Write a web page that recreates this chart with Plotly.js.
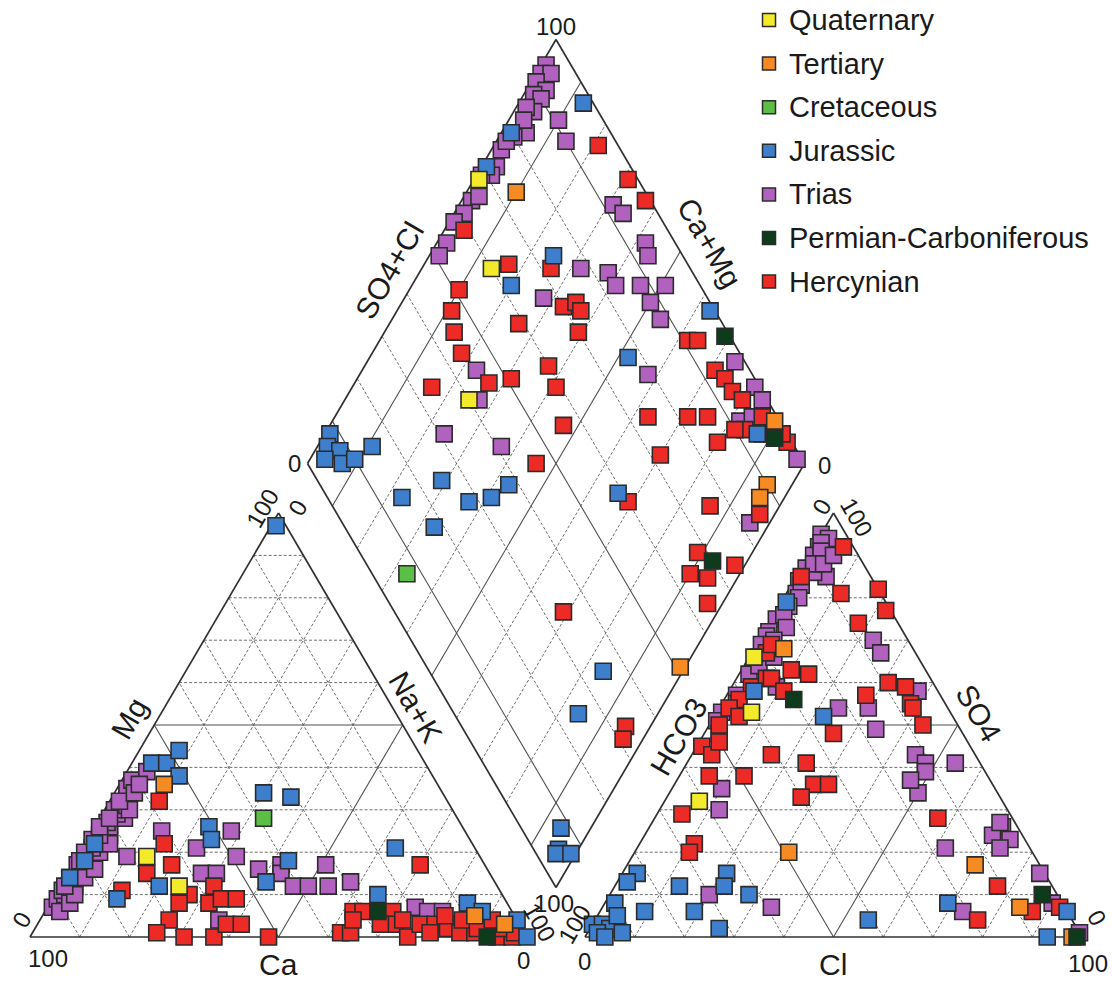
<!DOCTYPE html>
<html><head><meta charset="utf-8">
<script src="https://cdn.plot.ly/plotly-3.0.1.min.js"></script>
<style>html,body{margin:0;padding:0;background:#fff}#chart{width:1112px;height:982px}</style>
</head><body><div id="chart"></div>
<script>
// ---------- DATA (percent of meq) ----------
const groupNames = ['Quaternary','Tertiary','Cretaceous','Jurassic','Trias','Permian-Carboniferous','Hercynian'];
const groupColors = ['#f2ea2a','#f58b22','#5cbf45','#3d7fcc','#b162be','#0e3b1c','#ec2a26'];

// Cation triangle: Ca %, Mg %  (Na+K = remainder)
const quatCatCa = [67,64];
const quatCatMg = [19,12];
const tertCatCa = [55,3,8];
const tertCatMg = [36,3,5];
const cretCatCa = [39];
const cretCatMg = [28];
const jurCatCa = [2,55,52,48,51,36,31,51,52,68,78,39,46,16,25,8,6,0,0,76,80,85];
const jurCatMg = [97,41,41,44,38,34,33,26,23,12,9,18,13,21,10,8,6,4,0,22,18,14];
const triCatCa = [92,90,90,88,88,85,85,85,82,82,82,79,79,76,77,75,76,72,73,71,71,67,68,68,65,64,63,61,57,
                  61,47,71,56,49,58,55,46,41,42,41,38,32,34,29,60,19,17,14,12,
                  91,88,86,87,82,79,81,79,73,74,73,70,65,66,62,60];
const triCatMg = [7,8,9,10,11,12,13,14,15,16,17,18,19,20,21,22,23,24,25,26,27,28,29,30,31,33,35,37,39,
                  25,25,19,21,19,15,15,16,17,15,12,12,17,12,13,4,7,6,6,3,
                  6,8,10,12,14,16,18,20,22,24,26,28,30,32,34,36];
const permCatCa = [27,8];
const permCatMg = [6,0];
const herCatCa = [58,62,63,69,76,63,66,70,74,69,57,60,57,54,63,59,56,52,13,32,30,37,35,24,25,23,24,20,17,15,13,10,6,3,14,11,7,4,
                  28,19,9,5,2,33];
const herCatMg = [32,22,17,15,11,10,8,4,1,0,12,8,9,9,0,3,3,0,17,6,6,1,1,6,3,4,0,3,3,2,1,1,0,0,5,4,3,2,
                  3,1,2,4,1,4];

// Anion triangle: Cl %, SO4 %  (HCO3 = remainder)
const quatAnCl = [1,7,7];
const quatAnSO4 = [66,53,32];
const tertAnCl = [6,31,70,84,98];
const tertAnSO4 = [68,20,17,7,0];
const cretAnCl = [];
const cretAnSO4 = [];
const jurAnCl = [1,5,22,94,69,93,55,3,2,13,21,22,28,9,19,26,2,0,2,4,2,4,7,4];
const jurAnSO4 = [79,58,52,6,8,0,4,15,13,12,15,12,10,6,6,2,8,3,3,2,1,0,1,5];
const triAnCl = [0,1,1,1,1,2,6,3,3,2,1,1,1,1,2,9,1,1,23,26,38,24,30,34,45,48,49,54,50,10,12,71,70,74,73,62,84,90,73,99,20,34,2,3,2,3,47,70,
                 1,2,2,2,3,2,2,4,3,5,4,5];
const triAnSO4 = [95,92,90,87,84,81,85,86,89,94,75,72,71,69,62,59,53,51,70,67,58,54,54,49,43,41,39,41,34,35,30,26,24,23,21,21,15,8,6,1,10,7,66,64,57,55,37,27,
                  93,91,88,83,80,78,76,73,70,66,88,90];
const permAnCl = [14,87,99];
const permAnSO4 = [56,10,0];
const herAnCl = [6,1,11,18,22,18,3,3,4,6,7,10,14,11,3,2,3,1,4,31,35,38,39,43,26,28,16,24,13,6,28,31,27,5,57,11,11,77,92,77,87,
                 2,5,4];
const herAnSO4 = [92,85,81,82,77,74,67,69,59,61,61,63,62,58,56,54,48,45,43,60,59,55,54,50,48,57,43,41,38,38,36,36,33,29,28,22,20,12,7,4,6,
                  50,52,46];

// Diamond: SO4+Cl %, Na+K %
const quatDiaSC = [68,60,40];
const quatDiaNK = [1,14,25];
const tertDiaSC = [74,99,90,87,51];
const tertDiaNK = [10,89,95,95,99];
const cretDiaSC = [7];
const cretDiaNK = [33];
const jurDiaSC = [80,71,98,74,62,99,77,94,8,6,8,4,7,10,15,25,15,28,33,38,18,59,35,25,8,5,4,7];
const jurDiaNK = [2,1,13,25,20,63,52,87,1,2,5,3,7,9,11,29,23,37,41,43,33,66,84,84,94,96,96,99];
const triDiaSC = [95,93,95,91,92,89,90,87,83,76,73,71,64,54,51,91,90,92,93,94,93,78,83,83,88,93,88,88,67,45,42,79,98,99,99,92,96,99,31,41,82,
                  86,84,80,78,69,66,61,58,97,95];
const triDiaNK = [1,1,3,1,4,2,4,4,5,2,3,3,2,2,2,10,14,31,34,42,44,32,38,41,46,51,50,54,28,23,27,58,74,81,84,82,87,98,24,37,96,
                  2,3,3,2,1,3,2,1,90,84];
const permDiaSC = [99,97,70];
const permDiaNK = [69,91,93];
const herDiaSC = [59,96,98,99,72,64,51,47,45,44,70,73,73,59,70,91,93,46,51,60,59,34,93,94,94,86,82,74,56,85,72,46,99,92,99,60,76,68,64,67,64,74,85,34,33,31,
                  95,97,90,95];
const herDiaNK = [4,21,31,37,26,17,10,11,14,18,33,35,37,26,39,62,64,27,31,37,41,16,71,74,77,75,71,63,47,80,70,46,94,84,92,69,86,89,90,94,97,98,97,69,95,96,
                  80,86,82,88];

const tickStep = [10,20,30,40,50,60,70,80,90];

// ---------- GEOMETRY ----------
const S = 497, H = 424, Y0 = 937, LX = 30, RX = 585;
const LA = [LX, Y0], LB = [LX + S, Y0], LC = [LX + S / 2, Y0 - H];      // cation: Ca, Na+K, Mg
const RA = [RX, Y0], RB = [RX + S, Y0], RC = [RX + S / 2, Y0 - H];      // anion: HCO3, Cl, SO4
const DB = [(LX + S + RX) / 2, Y0 - (RX - LX - S) / 2 * (2 * H / S)];   // diamond bottom
const DLv = [DB[0] - S / 2, DB[1] - H], DT = [DB[0], DB[1] - 2 * H], DR = [DB[0] + S / 2, DB[1] - H];

function bary(A, B, C, a, b, c) {
  return [(a * A[0] + b * B[0] + c * C[0]) / 100, (a * A[1] + b * B[1] + c * C[1]) / 100];
}
const catXY = (ca, mg) => bary(LA, LB, LC, ca, 100 - ca - mg, mg);
const anXY = (cl, so4) => bary(RA, RB, RC, 100 - cl - so4, cl, so4);
const diaXY = (sc, nk) => [DLv[0] + (sc / 100) * (DT[0] - DLv[0]) + (nk / 100) * (DB[0] - DLv[0]),
                            DLv[1] + (sc / 100) * (DT[1] - DLv[1]) + (nk / 100) * (DB[1] - DLv[1])];

// ---------- GRID TRACES ----------
function segTrace(segs, line) {
  const x = [], y = [];
  segs.forEach(s => { x.push(s[0][0], s[1][0], null); y.push(s[0][1], s[1][1], null); });
  return { type: 'scatter', mode: 'lines', x, y, line, hoverinfo: 'skip', showlegend: false };
}
function triSegs(A, B, C, ks) {
  const out = [];
  ks.forEach(k => {
    out.push([bary(A, B, C, 100 - k, 0, k), bary(A, B, C, 0, 100 - k, k)]);
    out.push([bary(A, B, C, k, 100 - k, 0), bary(A, B, C, k, 0, 100 - k)]);
    out.push([bary(A, B, C, 100 - k, k, 0), bary(A, B, C, 0, k, 100 - k)]);
  });
  return out;
}
function diaSegs(ks) {
  const out = [];
  ks.forEach(k => {
    out.push([diaXY(k, 0), diaXY(k, 100)]);
    out.push([diaXY(0, k), diaXY(100, k)]);
  });
  return out;
}
const triSolid = [50];
const triDash = tickStep.filter(k => !triSolid.includes(k));
const diaSolid = [10, 50, 90];
const diaDash = tickStep.filter(k => !diaSolid.includes(k));

const dashLine = { color: '#5e5e5e', width: 0.9, dash: '3px,2px' };
const innerLine = { color: '#505050', width: 1.1 };
const edgeLine = { color: '#303030', width: 1.7 };

const traces = [];
traces.push(segTrace([...triSegs(LA, LB, LC, triDash), ...triSegs(RA, RB, RC, triDash), ...diaSegs(diaDash)], dashLine));
traces.push(segTrace([...triSegs(LA, LB, LC, triSolid), ...triSegs(RA, RB, RC, triSolid), ...diaSegs(diaSolid)], innerLine));
traces.push(segTrace([[LA, LB], [LB, LC], [LC, LA], [RA, RB], [RB, RC], [RC, RA],
                      [DLv, DT], [DT, DR], [DR, DB], [DB, DLv]], edgeLine));

// ---------- POINTS ----------
const series = [
  { i: 4, cc: triCatCa, cm: triCatMg, al: triAnCl, as: triAnSO4, dp: triDiaSC, dq: triDiaNK },
  { i: 6, cc: herCatCa, cm: herCatMg, al: herAnCl, as: herAnSO4, dp: herDiaSC, dq: herDiaNK },
  { i: 3, cc: jurCatCa, cm: jurCatMg, al: jurAnCl, as: jurAnSO4, dp: jurDiaSC, dq: jurDiaNK },
  { i: 1, cc: tertCatCa, cm: tertCatMg, al: tertAnCl, as: tertAnSO4, dp: tertDiaSC, dq: tertDiaNK },
  { i: 0, cc: quatCatCa, cm: quatCatMg, al: quatAnCl, as: quatAnSO4, dp: quatDiaSC, dq: quatDiaNK },
  { i: 2, cc: cretCatCa, cm: cretCatMg, al: cretAnCl, as: cretAnSO4, dp: cretDiaSC, dq: cretDiaNK },
  { i: 5, cc: permCatCa, cm: permCatMg, al: permAnCl, as: permAnSO4, dp: permDiaSC, dq: permDiaNK }
];
series.forEach(s => {
  const pts = [
    ...s.cc.map((v, j) => catXY(v, s.cm[j])),
    ...s.al.map((v, j) => anXY(v, s.as[j])),
    ...s.dp.map((v, j) => diaXY(v, s.dq[j]))
  ];
  traces.push({
    type: 'scatter', mode: 'markers', name: groupNames[s.i],
    x: pts.map(p => p[0]), y: pts.map(p => p[1]),
    marker: { symbol: 'square', size: 16, color: groupColors[s.i], line: { color: '#2b2b2b', width: 1.6 } },
    showlegend: false, hoverinfo: 'name'
  });
});

// legend swatches
const legX = 769, legY0 = 20, legDY = 43.6;
traces.push({
  type: 'scatter', mode: 'markers', x: groupNames.map(() => legX), y: groupNames.map((_, i) => legY0 + i * legDY),
  marker: { symbol: 'square', size: 13, color: groupColors, line: { color: '#2b2b2b', width: 1.5 } },
  showlegend: false, hoverinfo: 'skip'
});

// ---------- TEXT ----------
const F = 'Liberation Sans, Arial, sans-serif';
const ann = [];
function t(x, y, text, size, angle) {
  ann.push({ x, y, xref: 'x', yref: 'y', text, showarrow: false, textangle: angle || 0,
             font: { family: F, size, color: '#1a1a1a' }, xanchor: 'center', yanchor: 'middle' });
}
groupNames.forEach((n, i) => ann.push({ x: legX + 18, y: legY0 + i * legDY, xref: 'x', yref: 'y', text: n,
  showarrow: false, xanchor: 'left', yanchor: 'middle', font: { family: F, size: 29, color: '#1a1a1a' } }));

// axis titles
t(129, 718, 'Mg', 30, -60);
t(278, 964, 'Ca', 30, 0);
t(416, 707, 'Na+K', 30, 60);
t(678, 737, 'HCO3', 30, -60);
t(833, 964, 'Cl', 30, 0);
t(979, 713, 'SO4', 30, 60);
t(389, 270, 'SO4+Cl', 30, -60);
t(710, 243, 'Ca+Mg', 30, 60);
// end labels
t(556, 26, '100', 24, 0);
t(294, 463, '0', 24, 0);
t(824, 465, '0', 24, 0);
t(554, 903, '100', 24, 0);
t(21, 920, '0', 24, -60);
t(48, 958, '100', 24, 0);
t(523, 960, '0', 24, 0);
t(262, 508, '100', 24, -60);
t(297, 508, '0', 24, -60);
t(540, 922, '100', 24, 60);
t(574, 924, '100', 24, -60);
t(584, 961, '0', 24, 0);
t(821, 507, '0', 24, -60);
t(857, 517, '100', 24, 60);
t(1088, 963, '100', 24, 0);
t(1097, 917, '0', 24, 60);

const layout = {
  width: 1112, height: 982, margin: { l: 0, r: 0, t: 0, b: 0 },
  paper_bgcolor: '#fff', plot_bgcolor: '#fff', showlegend: false,
  xaxis: { range: [0, 1112], visible: false, fixedrange: true },
  yaxis: { range: [982, 0], visible: false, fixedrange: true },
  annotations: ann
};
Plotly.newPlot('chart', traces, layout, { displayModeBar: false, staticPlot: true });
</script></body></html>
